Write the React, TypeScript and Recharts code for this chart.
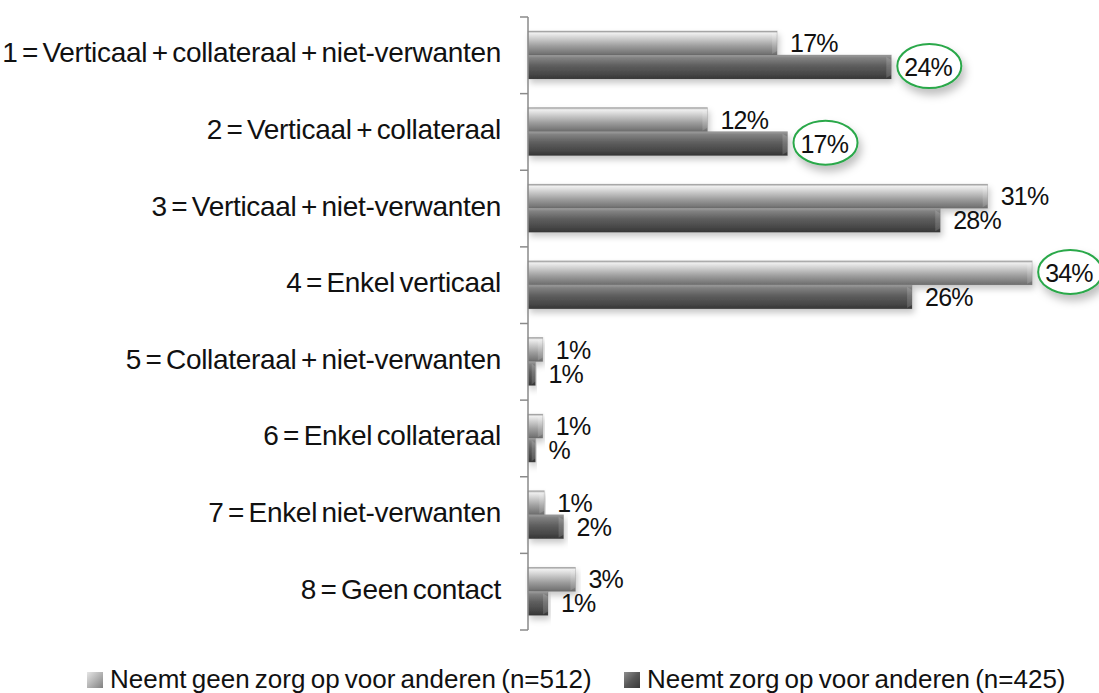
import React from 'react';
import { BarChart, Bar, XAxis, YAxis, Legend, LabelList } from 'recharts';

const categories = [
  '1 = Verticaal + collateraal + niet-verwanten',
  '2 = Verticaal + collateraal',
  '3 = Verticaal + niet-verwanten',
  '4 = Enkel verticaal',
  '5 = Collateraal + niet-verwanten',
  '6 = Enkel collateraal',
  '7 = Enkel niet-verwanten',
  '8 = Geen contact',
];
const geenZorg = [16.8, 12.1, 31.0, 34.0, 1.0, 1.0, 1.1, 3.2];
const welZorg = [24.5, 17.5, 27.8, 25.9, 0.5, 0.5, 2.4, 1.35];
const geenLabels = ['17%', '12%', '31%', '34%', '1%', '1%', '1%', '3%'];
const welLabels = ['24%', '17%', '28%', '26%', '1%', '%', '2%', '1%'];
const geenCircled = [false, false, false, true, false, false, false, false];
const welCircled = [true, true, false, false, false, false, false, false];
const seriesNames = ['Neemt geen zorg op voor anderen (n=512)', 'Neemt zorg op voor anderen (n=425)'];

const data = categories.map((name, i) => ({ name, geen: geenZorg[i], zorg: welZorg[i] }));

const W = 1099;
const H = 693;
const MARGIN = { top: 17, right: 52, bottom: 32, left: 0 };
const PLOT_H = 613;
const FONT = '"Liberation Sans", Arial, Helvetica, sans-serif';

const textWidth = (s: string, size: number) => {
  let w = 0;
  for (const c of s) w += c === '%' ? 0.889 : 0.556;
  return w * size;
};

const BarShape = (props: any) => {
  const { x, y, width, height, fill } = props;
  if (!width || width <= 0) return null;
  const b = Math.min(5, width / 2);
  return (
    <g filter="url(#barShadow)">
      <rect x={x} y={y} width={width} height={height} fill={fill} />
      <polygon
        points={`${x + width - b},${y + 2} ${x + width},${y + 5} ${x + width},${y + height - 4} ${x + width - b},${y + height - 1}`}
        fill="#ffffff"
        fillOpacity={0.15}
      />
      <rect x={x} y={y} width={width} height={height} fill="none" stroke="#666" strokeOpacity={0.3} strokeWidth={0.8} />
    </g>
  );
};

const makeLabel = (labels: string[], circled: boolean[]) => (props: any) => {
  const vb = props.viewBox || {};
  const x = props.x ?? vb.x;
  const y = props.y ?? vb.y;
  const width = props.width ?? vb.width;
  const height = props.height ?? vb.height;
  const i = props.index;
  const label = labels[i];
  const tx = x + width + 13;
  const cy = y + height / 2;
  const tw = textWidth(label, 25);
  return (
    <g>
      {circled[i] && (
        <ellipse
          cx={tx + tw / 2}
          cy={cy - 1}
          rx={tw / 2 + 7}
          ry={22}
          fill="#fff"
          stroke="#2aa84a"
          strokeWidth={2}
          filter="url(#ellShadow)"
        />
      )}
      <text x={tx} y={cy + 9} fontSize={25} fontFamily={FONT} fill="#111" letterSpacing={-0.8}>
        {label}
      </text>
    </g>
  );
};

const band = PLOT_H / categories.length;

const CategoryTick = (props: any) => {
  const { y, payload, index } = props;
  const ax = 528;
  return (
    <g>
      <line x1={ax - 8} x2={ax} y1={y - band / 2} y2={y - band / 2} stroke="#8a8a8a" strokeWidth={1.5} />
      {index === categories.length - 1 && (
        <line x1={ax - 8} x2={ax} y1={y + band / 2} y2={y + band / 2} stroke="#8a8a8a" strokeWidth={1.5} />
      )}
      <text
        x={501}
        y={y + 7}
        textAnchor="end"
        fontSize={28}
        fontFamily={FONT}
        fill="#111"
        letterSpacing={-0.3}
        wordSpacing={-3}
      >
        {payload.value}
      </text>
    </g>
  );
};

const LegendContent = () => (
  <div style={{ position: 'relative', width: W, height: 31, fontFamily: FONT, fontSize: 26, color: '#111' }}>
    {seriesNames.map((n, i) => (
      <div
        key={n}
        style={{ position: 'absolute', left: i === 0 ? 87 : 624, top: 0, display: 'flex', alignItems: 'center', whiteSpace: 'nowrap' }}
      >
        <span
          style={{
            display: 'inline-block',
            width: 16,
            height: 16,
            marginRight: 7,
            background:
              i === 0
                ? 'linear-gradient(135deg, #e6e6e6 0%, #b4b4b4 50%, #808080 100%)'
                : 'linear-gradient(135deg, #8e8e8e 0%, #585858 50%, #383838 100%)',
          }}
        />
        <span style={{ lineHeight: '31px', wordSpacing: -2 }}>{n}</span>
      </div>
    ))}
  </div>
);

export default function App() {
  return (
    <div style={{ position: 'absolute', left: 0, top: 0, width: W, height: H, background: '#fff' }}>
      <BarChart
        width={W}
        height={H}
        data={data}
        layout="vertical"
        margin={MARGIN}
        barSize={24}
        barGap={0}
      >
        <defs>
          <linearGradient id="gLight" x1="0" y1="0" x2="0" y2="1">
            <stop offset="0" stopColor="#9a9a9a" />
            <stop offset="0.09" stopColor="#efefef" />
            <stop offset="0.28" stopColor="#d2d2d2" />
            <stop offset="0.62" stopColor="#9e9e9e" />
            <stop offset="1" stopColor="#6c6c6c" />
          </linearGradient>
          <linearGradient id="gDark" x1="0" y1="0" x2="0" y2="1">
            <stop offset="0" stopColor="#a0a0a0" />
            <stop offset="0.12" stopColor="#828282" />
            <stop offset="0.45" stopColor="#5e5e5e" />
            <stop offset="0.8" stopColor="#474747" />
            <stop offset="1" stopColor="#353535" />
          </linearGradient>
          <filter id="barShadow" x="-5%" y="-30%" width="115%" height="180%">
            <feDropShadow dx="2" dy="4" stdDeviation="3" floodColor="#000" floodOpacity="0.22" />
          </filter>
          <filter id="ellShadow" x="-30%" y="-30%" width="170%" height="190%">
            <feDropShadow dx="3" dy="6" stdDeviation="4" floodColor="#000" floodOpacity="0.25" />
          </filter>
        </defs>
        <XAxis type="number" domain={[0, 35]} hide />
        <YAxis
          type="category"
          dataKey="name"
          width={528}
          axisLine={{ stroke: '#8a8a8a', strokeWidth: 1.5 }}
          tickLine={false}
          tick={<CategoryTick />}
          interval={0}
        />
        <Legend
          verticalAlign="bottom"
          content={<LegendContent />}
          wrapperStyle={{ left: 0, top: 664, width: W, height: 31 }}
        />
        <Bar dataKey="geen" name={seriesNames[0]} fill="url(#gLight)" shape={<BarShape />} isAnimationActive={false}>
          <LabelList dataKey="geen" content={makeLabel(geenLabels, geenCircled)} />
        </Bar>
        <Bar dataKey="zorg" name={seriesNames[1]} fill="url(#gDark)" shape={<BarShape />} isAnimationActive={false}>
          <LabelList dataKey="zorg" content={makeLabel(welLabels, welCircled)} />
        </Bar>
      </BarChart>
    </div>
  );
}
